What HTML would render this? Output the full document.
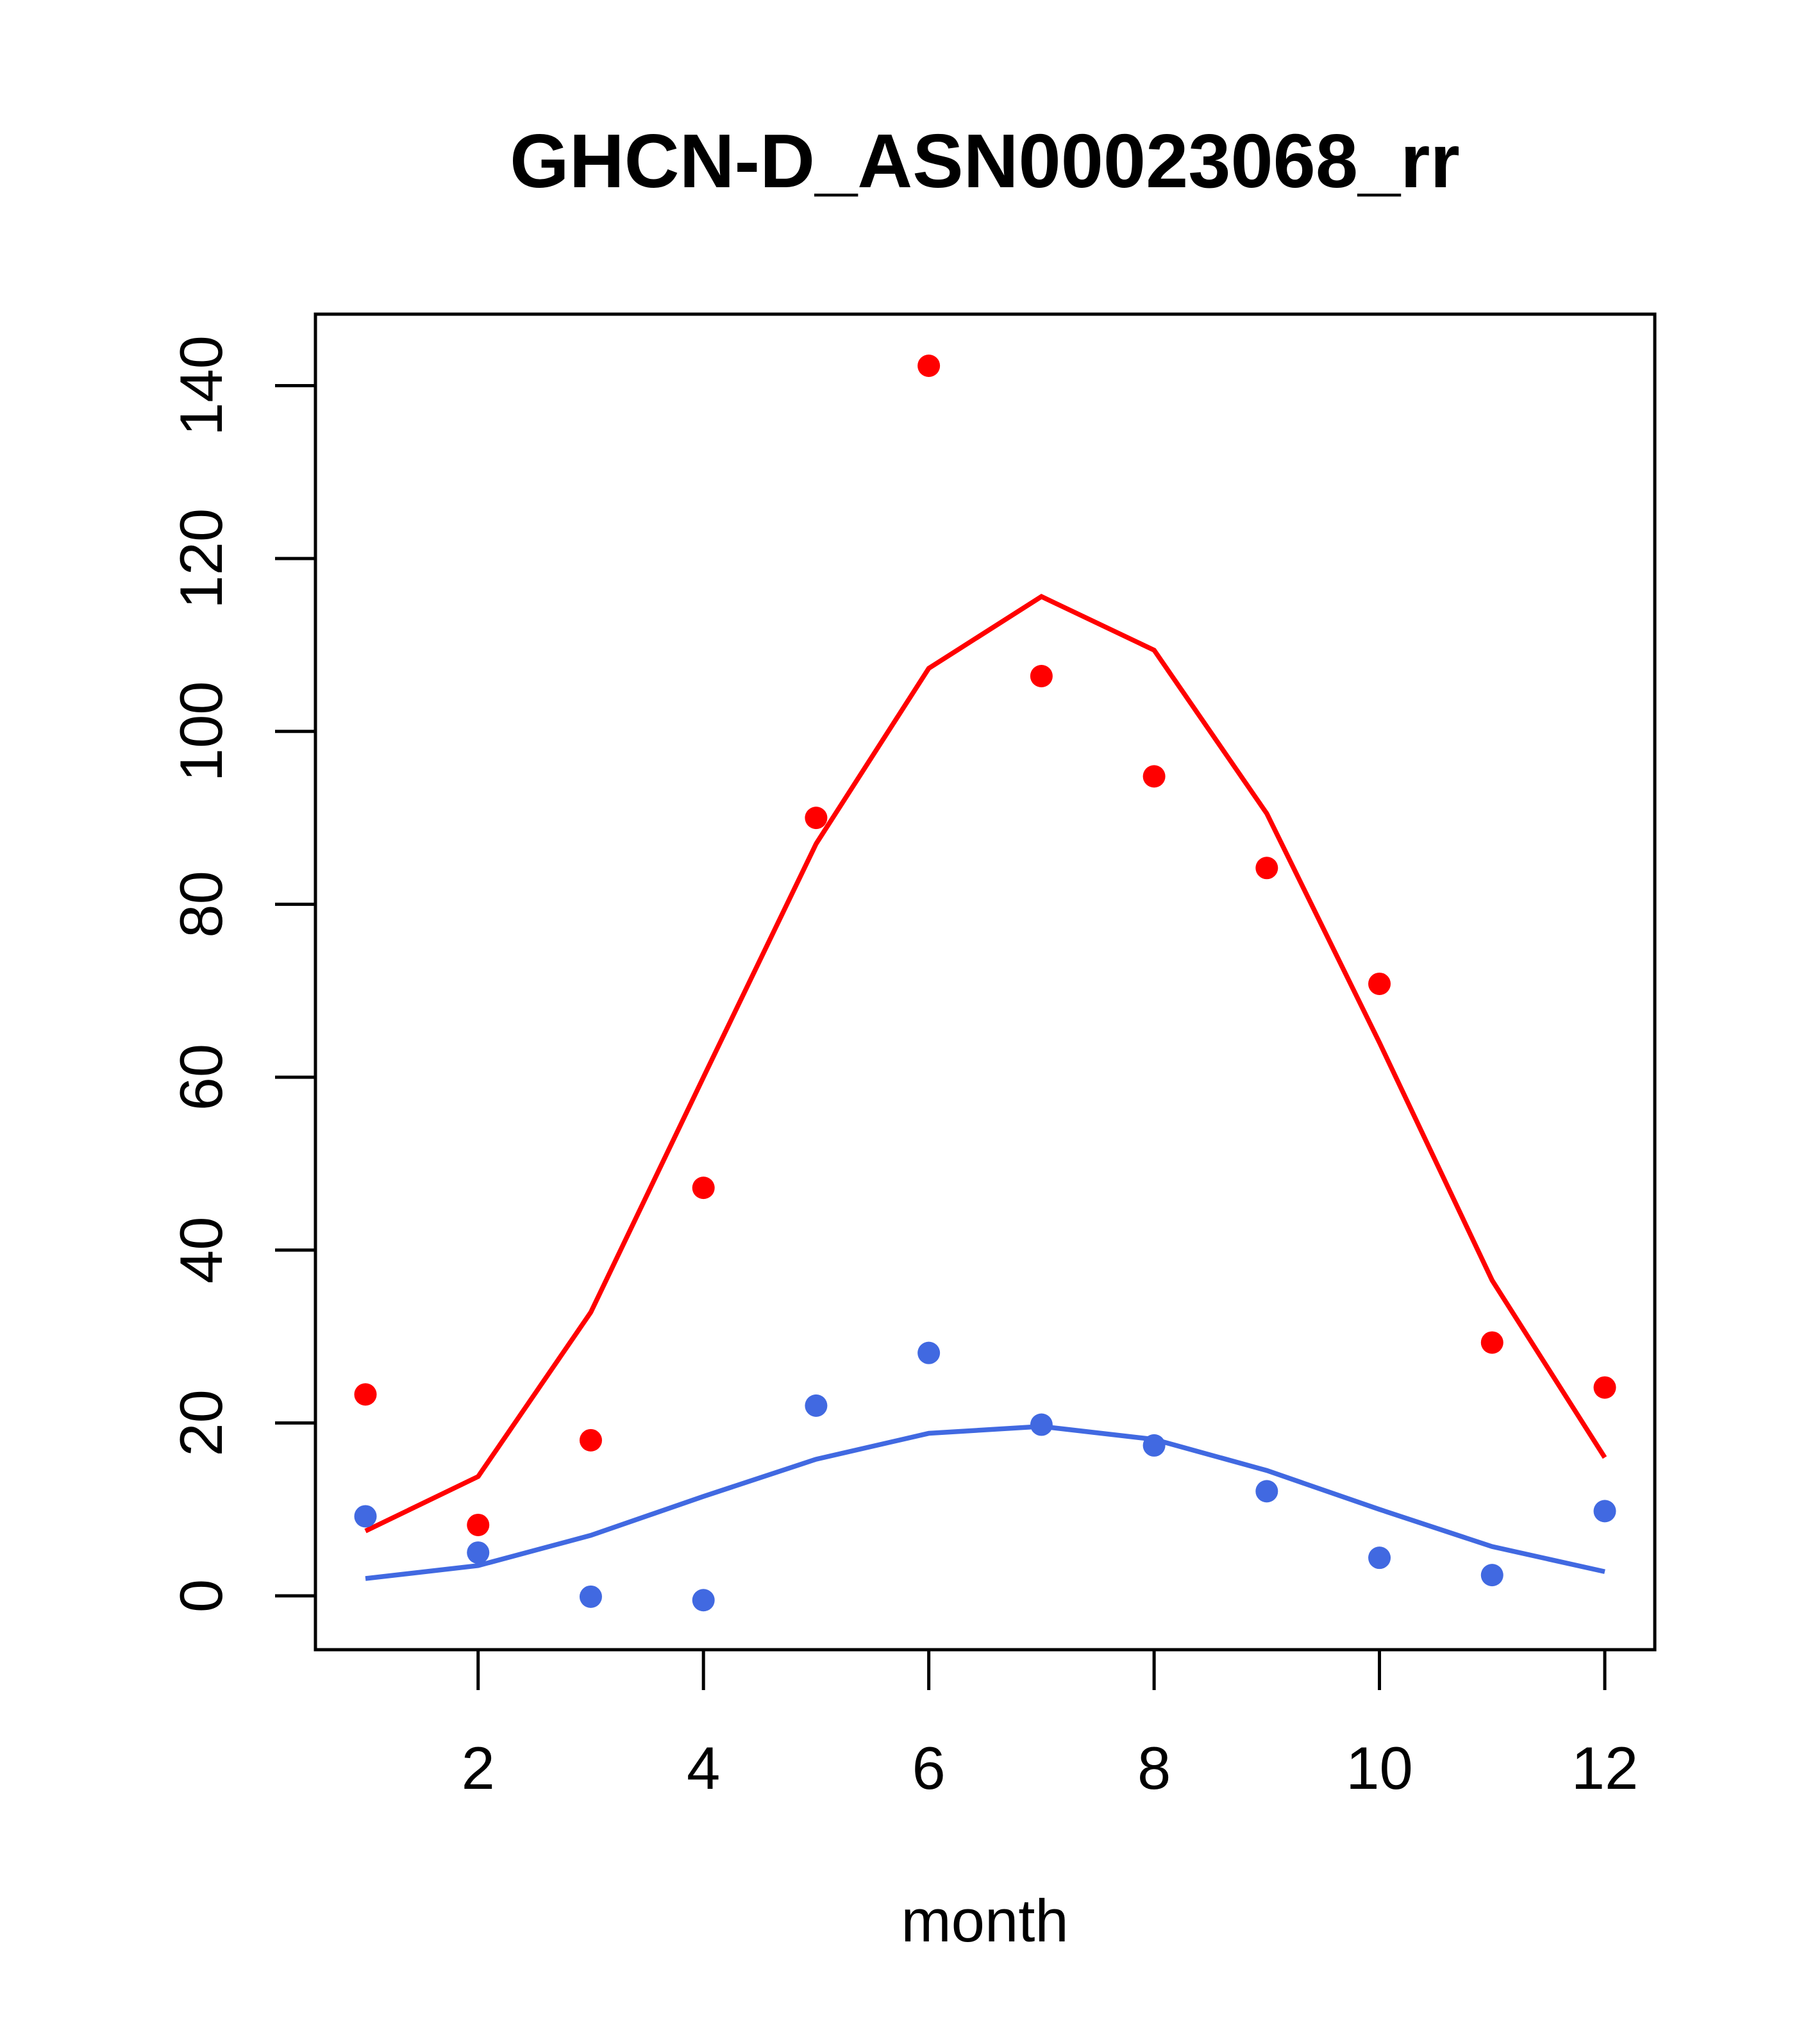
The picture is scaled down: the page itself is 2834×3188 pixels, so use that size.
<!DOCTYPE html>
<html><head><meta charset="utf-8"><style>html,body{margin:0;padding:0;background:#fff}svg{display:block}</style></head>
<body>
<svg id="chart" width="2834" height="3188" xmlns="http://www.w3.org/2000/svg" font-family="Liberation Sans, sans-serif">
<text x="1536" y="292" font-size="119" font-weight="bold" text-anchor="middle">GHCN-D_ASN00023068_rr</text>
<rect x="492" y="490" width="2089" height="2083" fill="none" stroke="#000" stroke-width="5"/>
<text x="1536" y="3028" font-size="94" text-anchor="middle">month</text>
<g id="xaxis"></g>
<g id="yaxis"></g>
<g id="series"></g>
</svg>
<script>
const months=[1,2,3,4,5,6,7,8,9,10,11,12];
const redPoints=[23.3,8.2,18,47.2,90,142.3,106.4,94.8,84.2,70.8,29.3,24.1];
const redLine=[7.5,13.8,32.8,60,87,107.3,115.6,109.4,90.5,64,36.5,16];
const bluePoints=[9.2,5,-0.1,-0.5,22,28.1,19.8,17.4,12.1,4.4,2.4,9.8];
const blueLine=[2,3.5,7,11.5,15.8,18.8,19.6,18.1,14.5,10,5.7,2.8];
const xTicks=[2,4,6,8,10,12];
const yTicks=[0,20,40,60,80,100,120,140];
const NS='http://www.w3.org/2000/svg';
const sx=m=>570+(m-1)*(2503-570)/11;
const sy=v=>2489-v*(2489-601.5)/140;
function mk(t,a,p){const e=document.createElementNS(NS,t);for(const k in a)e.setAttribute(k,a[k]);p.appendChild(e);return e;}
const xa=document.getElementById('xaxis'),ya=document.getElementById('yaxis'),sr=document.getElementById('series');
mk('line',{x1:sx(2),x2:sx(12),y1:2573,y2:2573,stroke:'#000','stroke-width':5},xa);
xTicks.forEach(t=>{
 const l=mk('line',{x1:sx(t),x2:sx(t),y1:2573,y2:2636,stroke:'#000','stroke-width':5},xa);
 
 
 const tx=mk('text',{x:sx(t),y:2790,'font-size':94,'text-anchor':'middle'},xa);tx.textContent=t;
 
 
});
mk('line',{x1:492,x2:492,y1:sy(0),y2:sy(140),stroke:'#000','stroke-width':5},ya);
yTicks.forEach(t=>{
 const l=mk('line',{x1:429,x2:492,y1:sy(t),y2:sy(t),stroke:'#000','stroke-width':5},ya);
 
 
 const tx=mk('text',{x:0,y:0,'font-size':94,'text-anchor':'middle',transform:`translate(346,${sy(t)}) rotate(-90)`},ya);tx.textContent=t;
 
 
});
function line(vals,col,name){
 const p=mk('polyline',{points:vals.map((v,i)=>sx(months[i])+','+sy(v)).join(' '),fill:'none',stroke:col,'stroke-width':7.5},sr);
 
 
}
function pts(vals,col,name){
 vals.forEach((v,i)=>{const c=mk('circle',{cx:sx(months[i]),cy:sy(v),r:17.5,fill:col},sr);
 
 });
}
line(redLine,'#ff0000','red-line');
line(blueLine,'#4169e1','blue-line');
pts(redPoints,'#ff0000','red-point');
pts(bluePoints,'#4169e1','blue-point');
</script>
</body></html>
